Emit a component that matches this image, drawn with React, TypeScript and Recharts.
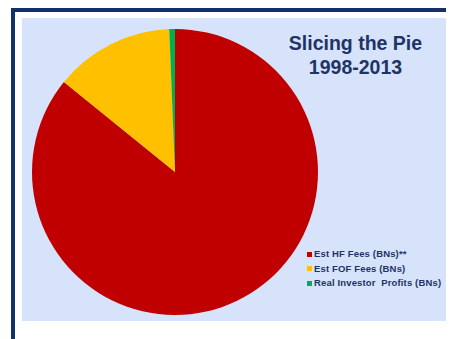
import React from "react";
import { PieChart, Pie, Cell, Legend } from "recharts";

const categories = ["Est HF Fees (BNs)**", "Est FOF Fees (BNs)", "Real Investor  Profits (BNs)"];
const values = [400, 63, 3];
const colors = ["#C00000", "#FFC000", "#00B050"];
const titleLines = ["Slicing the Pie", "1998-2013"];

const data = categories.map((name, i) => ({ name, value: values[i] }));

const LegendContent = () => (
  <div style={{ fontFamily: "Arial, 'Liberation Sans', sans-serif", fontWeight: "bold", fontSize: 9.5, letterSpacing: 0.15, color: "#1F3366", lineHeight: "14.5px" }}>
    {data.map((d, i) => (
      <div key={d.name} style={{ display: "flex", alignItems: "center", whiteSpace: "pre" }}>
        <span style={{ display: "inline-block", width: 5, height: 5, background: colors[i], marginRight: 2 }} />
        <span>{d.name}</span>
      </div>
    ))}
  </div>
);

export default function App() {
  return (
    <div style={{ position: "absolute", left: 0, top: 0, width: 451, height: 339, background: "#FFFFFF", overflow: "hidden" }}>
      <div style={{ position: "absolute", left: 11, top: 8, width: 435, height: 4, background: "#13306B" }} />
      <div style={{ position: "absolute", left: 11, top: 8, width: 4, height: 331, background: "#13306B" }} />
      <div style={{ position: "absolute", left: 22, top: 18, width: 424, height: 303, background: "#D6E3FA" }} />
      <div style={{ position: "absolute", left: 0, top: 0 }}>
        <PieChart width={451} height={339} margin={{ top: 0, right: 0, bottom: 0, left: 0 }}>
          <Pie
            data={data}
            dataKey="value"
            nameKey="name"
            cx={175}
            cy={172}
            outerRadius={143}
            startAngle={90}
            endAngle={-270}
            stroke="none"
            isAnimationActive={false}
          >
            {data.map((d, i) => (
              <Cell key={d.name} fill={colors[i]} />
            ))}
          </Pie>
          <Legend
            layout="vertical"
            align="right"
            verticalAlign="middle"
            wrapperStyle={{ left: 307, top: 247, width: 144, right: "auto" }}
            content={<LegendContent />}
          />
          <text x={355.5} y={50} textAnchor="middle" fill="#1F3366" style={{ fontFamily: "Arial, 'Liberation Sans', sans-serif", fontWeight: "bold", fontSize: 19.5 }}>
            {titleLines[0]}
          </text>
          <text x={355.5} y={74} textAnchor="middle" fill="#1F3366" style={{ fontFamily: "Arial, 'Liberation Sans', sans-serif", fontWeight: "bold", fontSize: 19.5 }}>
            {titleLines[1]}
          </text>
        </PieChart>
      </div>
    </div>
  );
}
